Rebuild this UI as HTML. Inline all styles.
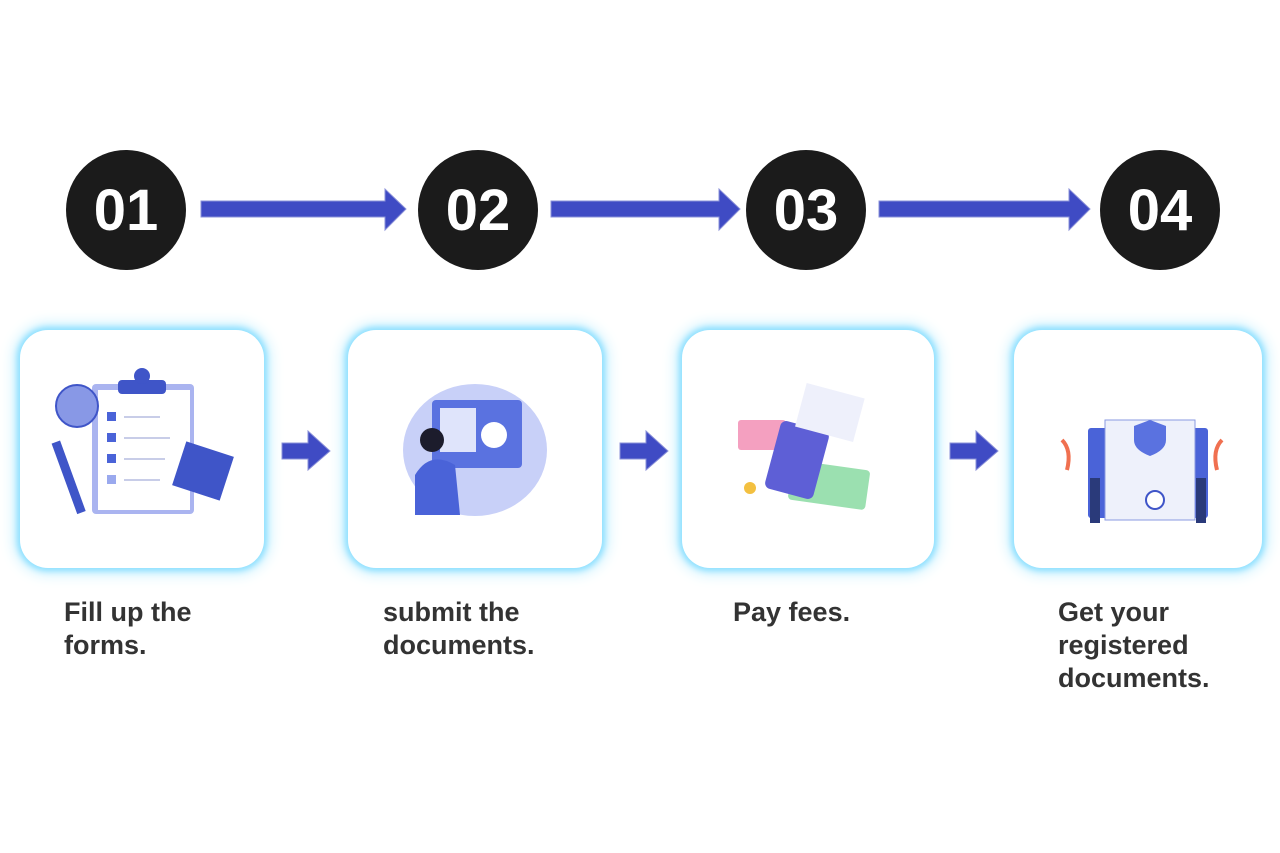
<!DOCTYPE html>
<html><head><meta charset="utf-8"><style>
body{margin:0;width:1280px;height:853px;background:#fff;position:relative;overflow:hidden;font-family:"Liberation Sans",sans-serif}
.c{position:absolute;width:120px;height:120px;border-radius:50%;background:#1b1b1b;color:#fff;font-weight:bold;font-size:58px;display:flex;align-items:center;justify-content:center;letter-spacing:0px}
.card{position:absolute;top:330px;height:238px;border-radius:28px;background:#fff;box-shadow:0 0 6px 3px #8ee0ff,0 0 14px 6px #c8f0ff}
.l{position:absolute;font-size:27px;font-weight:bold;color:#333;line-height:33px}
svg{position:absolute;left:0;top:0}
</style></head><body>
<div class="c" style="left:66px;top:150px">01</div>
<div class="c" style="left:418px;top:150px">02</div>
<div class="c" style="left:746px;top:150px">03</div>
<div class="c" style="left:1100px;top:150px">04</div>
<div class="card" style="left:20px;width:244px"></div>
<div class="card" style="left:348px;width:254px"></div>
<div class="card" style="left:682px;width:252px"></div>
<div class="card" style="left:1014px;width:248px"></div>
<svg width="1280" height="853">
<g fill="#3f4bc4" stroke="#8a90d8" stroke-width="1">
<polygon points="201,201 385,201 385,189 406,209 385,230 385,217 201,217"/>
<polygon points="551,201 719,201 719,189 740,209 719,230 719,217 551,217"/>
<polygon points="879,201 1069,201 1069,189 1090,209 1069,230 1069,217 879,217"/>
<polygon points="282,443 308,443 308,431 330,451 308,470 308,459 282,459"/>
<polygon points="620,443 646,443 646,431 668,451 646,470 646,459 620,459"/>
<polygon points="950,443 976,443 976,431 998,451 976,470 976,459 950,459"/>
</g>
<!-- card1 -->
<rect x="92" y="384" width="102" height="130" rx="4" fill="#aab4f0"/>
<rect x="98" y="390" width="92" height="120" fill="#fff"/>
<rect x="118" y="380" width="48" height="14" rx="4" fill="#3f55c8"/>
<circle cx="142" cy="376" r="8" fill="#3f55c8"/>
<rect x="107" y="412" width="9" height="9" fill="#4a63d8"/><rect x="107" y="433" width="9" height="9" fill="#4a63d8"/><rect x="107" y="454" width="9" height="9" fill="#4a63d8"/><rect x="107" y="475" width="9" height="9" fill="#9aa9ee"/>
<g stroke="#c8cde8" stroke-width="2"><line x1="124" y1="417" x2="160" y2="417"/><line x1="124" y1="438" x2="170" y2="438"/><line x1="124" y1="459" x2="165" y2="459"/><line x1="124" y1="480" x2="160" y2="480"/></g>
<circle cx="77" cy="406" r="21" fill="#8898e6" stroke="#3f55c8" stroke-width="2"/>
<rect x="178" y="448" width="50" height="46" fill="#3f55c8" transform="rotate(18 203 471)"/>
<rect x="64" y="440" width="9" height="75" fill="#3f55c8" transform="rotate(-20 68 477)"/>
<!-- card2 -->
<ellipse cx="475" cy="450" rx="72" ry="66" fill="#c8d0f8"/>
<rect x="432" y="400" width="90" height="68" rx="4" fill="#5a72e0"/>
<rect x="440" y="408" width="36" height="44" fill="#dfe4fb"/>
<circle cx="494" cy="435" r="13" fill="#fff"/>
<circle cx="432" cy="440" r="12" fill="#1c1c2c"/>
<path d="M415 475 q15 -25 40 -10 l5 50 h-45z" fill="#4a63d8"/>
<!-- card3 -->
<rect x="738" y="420" width="48" height="30" rx="3" fill="#f4a0c0"/>
<rect x="790" y="465" width="78" height="40" rx="4" fill="#9be0b0" transform="rotate(8 829 485)"/>
<rect x="772" y="425" width="50" height="70" rx="6" fill="#5e5fd6" transform="rotate(15 797 460)"/>
<rect x="800" y="390" width="60" height="45" fill="#eef0fb" transform="rotate(15 830 412)"/>
<circle cx="750" cy="488" r="6" fill="#f3c040"/>
<!-- card4 -->
<rect x="1088" y="428" width="120" height="90" rx="3" fill="#4a63d8"/>
<rect x="1105" y="420" width="90" height="100" fill="#eef1fb" stroke="#8a9ae0"/>
<path d="M1150 420 l16 6 v14 q0 10 -16 16 q-16 -6 -16 -16 v-14z" fill="#5a72e0"/>
<circle cx="1155" cy="500" r="9" fill="#fff" stroke="#3f55c8" stroke-width="2"/>
<path d="M1062 440 q10 10 5 30" stroke="#f07050" stroke-width="4" fill="none"/>
<path d="M1222 440 q-10 10 -5 30" stroke="#f07050" stroke-width="4" fill="none"/>
<rect x="1090" y="478" width="10" height="45" fill="#2a3a7a"/>
<rect x="1196" y="478" width="10" height="45" fill="#2a3a7a"/>
</svg>
<div class="l" style="left:64px;top:596px">Fill up the<br>forms.</div>
<div class="l" style="left:383px;top:596px">submit the<br>documents.</div>
<div class="l" style="left:733px;top:596px">Pay fees.</div>
<div class="l" style="left:1058px;top:596px">Get your<br>registered<br>documents.</div>
</body></html>
